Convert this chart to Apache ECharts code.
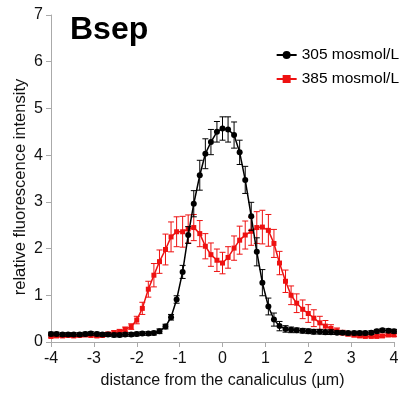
<!DOCTYPE html>
<html>
<head>
<meta charset="utf-8">
<script src="https://cdn.jsdelivr.net/npm/echarts@6/dist/echarts.min.js"></script>
<style>
html,body{margin:0;padding:0;background:#fff;}
#c{width:402px;height:397px;}
</style>
</head>
<body>
<div id="c"></div>
<script>
const xs = [-4,-3.87,-3.73,-3.6,-3.47,-3.33,-3.2,-3.07,-2.93,-2.8,-2.67,-2.53,-2.4,-2.27,-2.13,-2,-1.87,-1.73,-1.6,-1.47,-1.33,-1.2,-1.07,-0.93,-0.8,-0.67,-0.53,-0.4,-0.27,-0.13,0,0.13,0.27,0.4,0.53,0.67,0.8,0.93,1.07,1.2,1.33,1.47,1.6,1.73,1.87,2,2.13,2.27,2.4,2.53,2.67,2.8,2.93,3.07,3.2,3.33,3.47,3.6,3.73,3.87,4];
const iso305 = [0.17,0.17,0.16,0.16,0.16,0.16,0.17,0.18,0.17,0.16,
  0.16,0.15,0.15,0.16,0.16,0.17,0.18,0.18,0.19,0.23,
  0.33,0.53,0.91,1.50,2.29,2.96,3.57,4.03,4.28,4.50,
  4.57,4.55,4.43,4.06,3.47,2.69,1.93,1.27,0.76,0.48,
  0.34,0.28,0.26,0.25,0.24,0.23,0.22,0.22,0.21,0.21,
  0.20,0.20,0.19,0.19,0.19,0.19,0.20,0.23,0.25,0.24,0.23];
const err305 = [0.04,0.04,0.04,0.04,0.04,0.04,0.04,0.04,0.04,0.04,
  0.04,0.04,0.04,0.04,0.04,0.04,0.04,0.04,0.04,0.05,
  0.05,0.06,0.08,0.14,0.18,0.28,0.32,0.32,0.27,0.22,
  0.25,0.27,0.28,0.26,0.29,0.30,0.30,0.28,0.18,0.14,
  0.10,0.07,0.06,0.05,0.05,0.05,0.05,0.05,0.05,0.05,
  0.04,0.04,0.04,0.04,0.04,0.04,0.04,0.04,0.04,0.04,0.04];
const hyper385 = [0.12,0.13,0.13,0.14,0.13,0.14,0.15,0.14,0.13,0.14,
  0.17,0.20,0.22,0.27,0.33,0.47,0.72,1.13,1.43,1.72,
  1.98,2.25,2.36,2.36,2.42,2.45,2.32,2.05,1.87,1.75,
  1.69,1.81,2.01,2.18,2.29,2.37,2.45,2.46,2.39,2.11,
  1.69,1.30,1.00,0.83,0.70,0.61,0.51,0.41,0.34,0.29,
  0.24,0.20,0.17,0.15,0.13,0.12,0.12,0.12,0.13,0.15,0.15];
const err385 = [0.03,0.03,0.03,0.03,0.03,0.03,0.03,0.03,0.03,0.03,
  0.04,0.04,0.05,0.05,0.06,0.08,0.13,0.17,0.25,0.25,
  0.33,0.32,0.32,0.33,0.30,0.28,0.28,0.27,0.25,0.24,
  0.23,0.23,0.26,0.30,0.30,0.30,0.34,0.36,0.34,0.30,
  0.25,0.24,0.20,0.20,0.20,0.19,0.18,0.14,0.12,0.08,
  0.06,0.05,0.04,0.04,0.03,0.03,0.03,0.03,0.03,0.03,0.03];
const xTicks = [-4,-3,-2,-1,0,1,2,3,4];
const yTicks = [0,1,2,3,4,5,6,7];
const seriesNames = ['305 mosmol/L','385 mosmol/L'];
const titleText = 'Bsep';
const xName = 'distance from the canaliculus (\u00b5m)';
const yName = 'relative fluorescence intensity';

const BLACK = '#000000';
const RED = '#ee1111';
const FONT = 'Liberation Sans, Arial, Helvetica, sans-serif';

function pts(v){ return xs.map((x,i)=>[x,v[i]]); }
function errs(v,e){ return xs.map((x,i)=>[x,v[i]-e[i],v[i]+e[i]]); }
function errRender(color){
  return function(params, api){
    const lo = api.coord([api.value(0), api.value(1)]);
    const hi = api.coord([api.value(0), api.value(2)]);
    const w = 3;
    const st = {stroke: color, lineWidth: 1};
    return {type:'group', children:[
      {type:'line', shape:{x1:lo[0],y1:lo[1],x2:hi[0],y2:hi[1]}, style:st},
      {type:'line', shape:{x1:lo[0]-w,y1:lo[1],x2:lo[0]+w,y2:lo[1]}, style:st},
      {type:'line', shape:{x1:hi[0]-w,y1:hi[1],x2:hi[0]+w,y2:hi[1]}, style:st}
    ]};
  };
}

const chart = echarts.init(document.getElementById('c'), null, {renderer:'canvas'});
chart.setOption({
  animation:false,
  backgroundColor:'#fff',
  textStyle:{fontFamily:FONT},
  grid:{left:51,right:8,top:15,bottom:55,containLabel:false},
  graphic:[
    {type:'text', left:70, top:14, style:{text:titleText, font:'bold 32px '+FONT, fill:'#000'}},
    {type:'text', x:20, y:187, rotation:Math.PI/2,
      style:{text:yName, font:'16.5px '+FONT, fill:'#111', align:'center', verticalAlign:'middle'}}
  ],
  legend:{
    orient:'vertical', right:-2, top:42, itemWidth:20, itemHeight:10, itemGap:8,
    textStyle:{fontSize:15.5, color:'#000', fontFamily:FONT},
    data:seriesNames
  },
  xAxis:{
    type:'value', min:-4, max:4, interval:1,
    axisLine:{show:true, onZero:false, lineStyle:{color:'#aaaaaa', width:1}},
    axisTick:{show:true, inside:false, length:5, lineStyle:{color:'#aaaaaa'}},
    splitLine:{show:false},
    axisLabel:{fontSize:16, color:'#111', margin:9, fontFamily:FONT},
    name:xName, nameLocation:'middle', nameGap:31,
    nameTextStyle:{fontSize:16, color:'#111', fontFamily:FONT}
  },
  yAxis:{
    type:'value', min:0, max:7, interval:1,
    axisLine:{show:true, onZero:false, lineStyle:{color:'#aaaaaa', width:1}},
    axisTick:{show:true, inside:false, length:5, lineStyle:{color:'#aaaaaa'}},
    splitLine:{show:false},
    axisLabel:{fontSize:16, color:'#111', margin:8, fontFamily:FONT}
  },
  series:[
    {type:'custom', name:'err385', renderItem:errRender(RED), data:errs(hyper385,err385), z:2, silent:true},
    {type:'line', name:seriesNames[1], data:pts(hyper385), symbol:'rect', symbolSize:5,
      itemStyle:{color:RED}, lineStyle:{color:RED, width:1.5}, z:3},
    {type:'custom', name:'err305', renderItem:errRender(BLACK), data:errs(iso305,err305), z:4, silent:true},
    {type:'line', name:seriesNames[0], data:pts(iso305), symbol:'circle', symbolSize:6,
      itemStyle:{color:BLACK}, lineStyle:{color:BLACK, width:1.5}, z:5}
  ]
});
</script>
</body>
</html>
